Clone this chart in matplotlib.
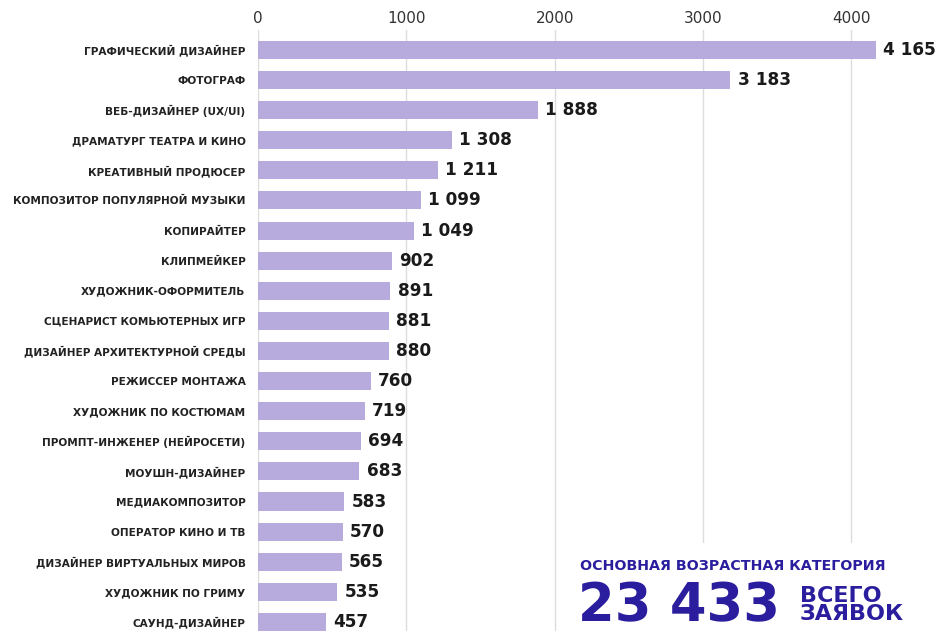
import matplotlib.pyplot as plt
from matplotlib.patches import Rectangle

# professions and number of applications
professions = [
    "ГРАФИЧЕСКИЙ ДИЗАЙНЕР", "ФОТОГРАФ", "ВЕБ-ДИЗАЙНЕР (UX/UI)",
    "ДРАМАТУРГ ТЕАТРА И КИНО", "КРЕАТИВНЫЙ ПРОДЮСЕР",
    "КОМПОЗИТОР ПОПУЛЯРНОЙ МУЗЫКИ", "КОПИРАЙТЕР", "КЛИПМЕЙКЕР",
    "ХУДОЖНИК-ОФОРМИТЕЛЬ", "СЦЕНАРИСТ КОМЬЮТЕРНЫХ ИГР",
    "ДИЗАЙНЕР АРХИТЕКТУРНОЙ СРЕДЫ", "РЕЖИССЕР МОНТАЖА",
    "ХУДОЖНИК ПО КОСТЮМАМ", "ПРОМПТ-ИНЖЕНЕР (НЕЙРОСЕТИ)",
    "МОУШН-ДИЗАЙНЕР", "МЕДИАКОМПОЗИТОР", "ОПЕРАТОР КИНО И ТВ",
    "ДИЗАЙНЕР ВИРТУАЛЬНЫХ МИРОВ", "ХУДОЖНИК ПО ГРИМУ", "САУНД-ДИЗАЙНЕР",
]
counts = [4165, 3183, 1888, 1308, 1211, 1099, 1049, 902, 891, 881,
          880, 760, 719, 694, 683, 583, 570, 565, 535, 457]
ticks = [0, 1000, 2000, 3000, 4000]
total = 23433

bar_color = "#b7aadc"
accent = "#2b1e9e"

plt.rcParams['font.family'] = ['DejaVu Sans']

fig = plt.figure(figsize=(9.41, 6.31), dpi=100)
ax = fig.add_axes([258 / 941, 0, (941 - 258 - 60) / 941, 1 - 30 / 631])

y = list(range(len(counts)))
ax.barh(y, counts, height=0.6, color=bar_color, zorder=2)

for yi, v in zip(y, counts):
    ax.text(v + 50, yi, f"{v:,}".replace(",", " "), va="center", ha="left",
            fontsize=12.2, fontweight="bold", color="#1a1a1a", zorder=3)

ax.set_yticks(y)
ax.set_yticklabels(professions, fontsize=7.6, fontweight="semibold",
                   color="#222222")
ax.tick_params(axis="y", length=0, pad=9)
ax.xaxis.tick_top()
ax.set_xticks(ticks)
ax.set_xticklabels([str(t) for t in ticks], fontsize=11, color="#333333")
ax.tick_params(axis="x", length=0, pad=3)

ax.set_xlim(0, 4180 * (941 - 258 - 60) / 620)
ax.set_ylim(19.3, -0.66)
ax.grid(axis="x", color="#dddddd", linewidth=1, zorder=0)
for s in ax.spines.values():
    s.set_visible(False)

# summary box in the lower right corner
fig.patches.append(Rectangle((565 / 941, 0), 1, 88 / 631, transform=fig.transFigure,
                             facecolor="white", edgecolor="none", zorder=5))
fig.text(580 / 941, 1 - 566 / 631, "ОСНОВНАЯ ВОЗРАСТНАЯ КАТЕГОРИЯ",
         fontsize=10.3, fontweight="bold", color=accent, va="center", zorder=6)
fig.text(578 / 941, 1 - 606 / 631, f"{total:,}".replace(",", " "),
         fontsize=38, fontweight="bold", color=accent, va="center", zorder=6)
fig.text(800 / 941, 1 - 605 / 631, "ВСЕГО\nЗАЯВОК", fontsize=16,
         fontweight="bold", color=accent, va="center", linespacing=0.85, zorder=6)

fig.savefig("out.png", dpi=100)
